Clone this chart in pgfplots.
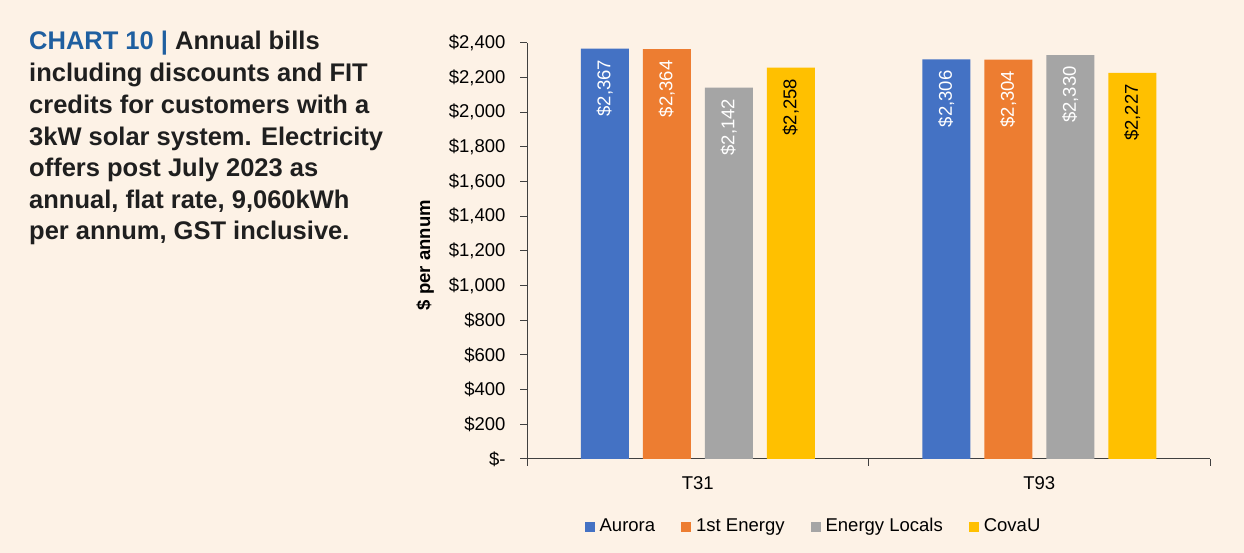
\documentclass[border=0pt]{standalone}
\usepackage{fontspec}
\setmainfont{Liberation Sans}
\usepackage{pgfplots}
\pgfplotsset{compat=1.18}
\definecolor{bg}{HTML}{FDF2E6}
\definecolor{cblue}{HTML}{4472C4}
\definecolor{corange}{HTML}{ED7D31}
\definecolor{cgray}{HTML}{A5A5A5}
\definecolor{cyellow}{HTML}{FFC000}
\definecolor{ttl}{HTML}{1F5FA0}
\definecolor{axc}{HTML}{404040}
\newcommand{\lbl}{\fontsize{18.5}{21}\selectfont}
\begin{document}
\begin{tikzpicture}[x=1pt,y=1pt]
\fill[bg] (0,0) rectangle (1244,553);
\begin{scope}[font=\fontsize{25.5}{31.7}\selectfont\bfseries, text=black!88]
\node[anchor=base west, inner sep=0] at (29,503) {\textcolor{ttl}{CHART 10 |} Annual bills};
\node[anchor=base west, inner sep=0] at (29,471.3) {including discounts and FIT};
\node[anchor=base west, inner sep=0] at (29,439.7) {credits for customers with a};
\node[anchor=base west, inner sep=0] at (29,407.3) {3kW solar system. Electricity};
\node[anchor=base west, inner sep=0] at (29,376.3) {offers post July 2023 as};
\node[anchor=base west, inner sep=0] at (29,344) {annual, flat rate, 9,060kWh};
\node[anchor=base west, inner sep=0] at (29,313) {per annum, GST inclusive.};
\end{scope}
\begin{axis}[
  at={(527pt,94pt)}, anchor=south west,
  width=683pt, height=416pt, scale only axis,
  ybar, bar width=48pt, ybar=14pt,
  xmin=-0.5, xmax=1.5, ymin=0, ymax=2400,
  axis x line*=bottom, axis y line*=left,
  axis line style={axc, line width=1pt},
  every tick/.style={axc, line width=1pt},
  tick align=outside, major tick length=7pt,
  xtick={-0.5,0.5,1.5}, xticklabels={},
  extra x ticks={0,1}, extra x tick labels={T31,T93},
  extra x tick style={major tick length=0pt, xticklabel style={yshift=-14pt}},
  ytick={0,200,...,2400},
  yticklabels={{\$-},{\$200},{\$400},{\$600},{\$800},{\$1,000},{\$1,200},{\$1,400},{\$1,600},{\$1,800},{\$2,000},{\$2,200},{\$2,400}},
  ticklabel style={font=\lbl, text=black},
  yticklabel style={xshift=-11pt},
  ylabel={\$ per annum},
  ylabel style={at={(axis description cs:-0.149,0.49)}, anchor=center, font=\lbl\bfseries},
  nodes near coords={\$\pgfmathprintnumber[assume math mode=true,1000 sep={,}]{\pgfplotspointmeta}},
  every node near coord/.append style={font=\lbl, text=white, yshift=-11pt, rotate=90, anchor=east, inner sep=0pt},
  legend style={at={(rel axis cs:0.4180,-0.1636)}, anchor=center, draw=none, fill=none,
    font=\lbl, nodes={inner sep=0pt, text height=13pt, text depth=4pt},
    /tikz/every odd column/.append style={column sep=5pt},
    /tikz/every even column/.append style={column sep=26pt}},
  legend columns=4,
  legend image code/.code={\fill[#1] (0pt,-5pt) rectangle (10pt,5pt);},
]
\addplot[fill=cblue, draw=none] coordinates {(0,2367) (1,2306)};
\addplot[fill=corange, draw=none] coordinates {(0,2364) (1,2304)};
\addplot[fill=cgray, draw=none] coordinates {(0,2142) (1,2330)};
\addplot[fill=cyellow, draw=none, every node near coord/.append style={text=black}] coordinates {(0,2258) (1,2227)};
\legend{Aurora,1st Energy,Energy Locals,CovaU}
\end{axis}
\end{tikzpicture}
\end{document}
